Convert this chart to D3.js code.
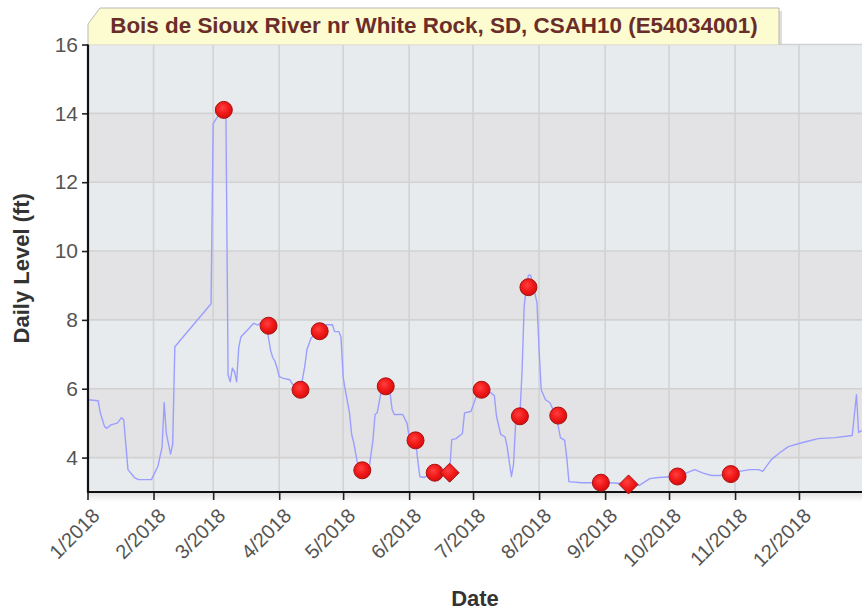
<!DOCTYPE html>
<html>
<head>
<meta charset="utf-8">
<script src="https://cdn.jsdelivr.net/npm/d3@7"></script>
<style>
  html, body { margin: 0; padding: 0; background: #ffffff; }
  svg { display: block; }
</style>
</head>
<body>
<svg id="chart" width="862" height="612"></svg>
<script>
// ---------- DATA ----------
const chartTitle = "Bois de Sioux River nr White Rock, SD, CSAH10 (E54034001)";
const yAxisTitle = "Daily Level (ft)";
const xAxisTitle = "Date";

const yTickValues = [4, 6, 8, 10, 12, 14, 16];
const monthTicks = ["2018-01-01","2018-02-01","2018-03-01","2018-04-01","2018-05-01","2018-06-01",
                    "2018-07-01","2018-08-01","2018-09-01","2018-10-01","2018-11-01","2018-12-01"];

// Daily level line (vertices)
const lineDates = [
 "2018-01-01","2018-01-06","2018-01-07","2018-01-09","2018-01-10","2018-01-12","2018-01-15","2018-01-17","2018-01-18",
 "2018-01-20","2018-01-23","2018-01-25","2018-01-31","2018-02-03","2018-02-05","2018-02-06","2018-02-07","2018-02-09",
 "2018-02-10","2018-02-11","2018-02-28","2018-03-01","2018-03-03","2018-03-05","2018-03-07","2018-03-08","2018-03-09",
 "2018-03-10","2018-03-11","2018-03-12","2018-03-13","2018-03-14","2018-03-17","2018-03-20","2018-03-22","2018-03-24",
 "2018-03-26","2018-03-28","2018-03-29","2018-03-30","2018-03-31","2018-04-01","2018-04-03","2018-04-06","2018-04-07",
 "2018-04-11","2018-04-13","2018-04-14","2018-04-16","2018-04-20","2018-04-23","2018-04-26","2018-04-27","2018-04-29",
 "2018-04-30","2018-05-01","2018-05-02","2018-05-04","2018-05-05","2018-05-06","2018-05-08","2018-05-10","2018-05-13",
 "2018-05-15","2018-05-16","2018-05-17","2018-05-19","2018-05-21","2018-05-23","2018-05-24","2018-05-25","2018-05-29",
 "2018-05-31","2018-06-01","2018-06-04","2018-06-05","2018-06-06","2018-06-08","2018-06-10","2018-06-13","2018-06-20",
 "2018-06-21","2018-06-23","2018-06-26","2018-06-27","2018-06-30","2018-07-02","2018-07-03","2018-07-05","2018-07-09",
 "2018-07-11","2018-07-12","2018-07-14","2018-07-16","2018-07-17","2018-07-19","2018-07-20","2018-07-21","2018-07-23",
 "2018-07-24","2018-07-25","2018-07-26","2018-07-27","2018-07-28","2018-07-29","2018-07-31","2018-08-01","2018-08-02",
 "2018-08-04","2018-08-06","2018-08-09","2018-08-10","2018-08-11","2018-08-13","2018-08-14","2018-08-15","2018-08-21",
 "2018-08-29","2018-09-03","2018-09-11","2018-09-17","2018-09-22","2018-09-26","2018-10-04","2018-10-09","2018-10-13",
 "2018-10-17","2018-10-21","2018-10-25","2018-10-29","2018-11-03","2018-11-08","2018-11-12","2018-11-14","2018-11-18",
 "2018-11-22","2018-11-26","2018-12-01","2018-12-06","2018-12-10","2018-12-18","2018-12-26","2018-12-28","2018-12-29",
 "2018-12-31"
];
const lineValues = [
 5.68,5.65,5.3,4.9,4.85,4.95,5.0,5.16,5.1,
 3.65,3.42,3.36,3.36,3.74,4.3,5.6,4.7,4.1,
 4.4,7.22,8.47,13.7,13.9,14.0,13.9,6.4,6.2,
 6.6,6.5,6.2,7.2,7.5,7.7,7.9,7.85,7.95,
 7.83,7.1,6.9,6.8,6.6,6.35,6.3,6.26,6.15,
 5.97,6.65,7.13,7.48,7.66,7.86,7.86,7.66,7.66,
 7.5,6.35,5.97,5.3,4.67,4.43,3.75,3.65,3.6,
 4.5,5.25,5.3,5.97,6.09,5.9,5.4,5.25,5.25,
 5.0,4.6,4.52,3.94,3.45,3.42,3.5,3.59,3.59,
 4.52,4.55,4.7,5.3,5.34,5.68,5.9,5.97,5.9,
 5.8,5.2,4.67,4.6,4.32,3.45,3.8,5.0,5.22,
 6.5,8.4,8.93,9.3,9.3,9.05,8.5,7.13,5.97,
 5.68,5.6,5.22,4.9,4.58,4.5,4.0,3.3,3.27,
 3.27,3.27,3.24,3.19,3.39,3.42,3.45,3.55,3.65,
 3.55,3.48,3.48,3.54,3.6,3.65,3.65,3.6,3.94,
 4.14,4.32,4.41,4.49,4.55,4.58,4.64,5.83,4.73,
 4.8
];

// Measured readings (circles)
const circleDates = ["2018-03-06","2018-03-27","2018-04-11","2018-04-20","2018-05-10","2018-05-21","2018-06-04",
                     "2018-06-13","2018-07-05","2018-07-23","2018-07-27","2018-08-10","2018-08-30","2018-10-05","2018-10-30"];
const circleValues = [14.1, 7.83, 5.97, 7.67, 3.63, 6.07, 4.5, 3.56, 5.97, 5.2, 8.95, 5.22, 3.27, 3.45, 3.52];

// Readings shown as diamonds
const diamondDates = ["2018-06-20","2018-09-12"];
const diamondValues = [3.56, 3.22];

// ---------- CHART ----------
(function () {
const parse = d3.timeParse("%Y-%m-%d");
const svg = d3.select("#chart");
const W = 862;
const pLeft = 88, pTop = 44.5, pBottom = 492;

const x = d3.scaleTime()
  .domain([parse("2018-01-01"), parse("2019-01-01")])
  .range([87.5, 865]);
const y = d3.scaleLinear().domain([3, 16]).range([pBottom, pTop]);

const defs = svg.append("defs");
const rg = defs.append("radialGradient").attr("id", "ball")
  .attr("cx", "42%").attr("cy", "38%").attr("r", "62%");
rg.append("stop").attr("offset", "0%").attr("stop-color", "#ff4040");
rg.append("stop").attr("offset", "55%").attr("stop-color", "#f21a1a");
rg.append("stop").attr("offset", "100%").attr("stop-color", "#d80c0c");
const sg = defs.append("linearGradient").attr("id", "shadowBelow")
  .attr("x1", 0).attr("y1", 0).attr("x2", 0).attr("y2", 1);
sg.append("stop").attr("offset", "0%").attr("stop-color", "#000").attr("stop-opacity", 0.12);
sg.append("stop").attr("offset", "100%").attr("stop-color", "#000").attr("stop-opacity", 0);
defs.append("clipPath").attr("id", "plotClip").append("rect")
  .attr("x", pLeft).attr("y", pTop - 12).attr("width", W - pLeft).attr("height", pBottom - pTop + 12);

// Plot background bands
const bandEdges = [16, 14, 12, 10, 8, 6, 4, 3];
const bands = d3.pairs(bandEdges);
svg.append("g").selectAll("rect").data(bands).join("rect")
  .attr("x", pLeft).attr("width", W - pLeft)
  .attr("y", d => y(d[0])).attr("height", d => y(d[1]) - y(d[0]))
  .attr("fill", (d, i) => i % 2 === 0 ? "#e8ebee" : "#e3e3e5");

// shadow below x axis
svg.append("rect").attr("x", pLeft).attr("y", pBottom + 1).attr("width", W - pLeft).attr("height", 9)
  .attr("fill", "url(#shadowBelow)");

// grid lines
const grid = svg.append("g");
grid.selectAll("line.h").data(yTickValues).join("line")
  .attr("x1", pLeft).attr("x2", W)
  .attr("y1", d => y(d)).attr("y2", d => y(d))
  .attr("stroke", "#d2d2d2").attr("stroke-width", 1.6);
grid.selectAll("line.v").data(monthTicks.slice(1).map(parse)).join("line")
  .attr("x1", d => x(d)).attr("x2", d => x(d))
  .attr("y1", pTop).attr("y2", pBottom)
  .attr("stroke", "#d2d2d2").attr("stroke-width", 1.6);

// Title tab
const tab = svg.append("g");
tab.append("path")
  .attr("d", `M${pLeft+3},${pTop} L${pLeft+3},27 L${pLeft+15},11 L782,11 L782,${pTop} Z`)
  .attr("fill", "#c8c8c8").attr("opacity", 0.6);
tab.append("path")
  .attr("d", `M${pLeft},${pTop} L${pLeft},24 L${pLeft+12},8 L779,8 L779,${pTop}`)
  .attr("fill", "#fdfbd0").attr("stroke", "#b9b9b0").attr("stroke-width", 1);
const title = tab.append("text")
  .attr("x", 434).attr("y", 33)
  .attr("text-anchor", "middle")
  .attr("font-family", "Liberation Sans, Arial, sans-serif")
  .attr("font-weight", "bold")
  .attr("font-size", 20)
  .attr("fill", "#6b2d2a")
  .text(chartTitle);
const tl = title.node().getComputedTextLength();
title.attr("font-size", 20 * 648 / tl);

// Line
const pts = lineDates.map((d, i) => ({ date: parse(d), value: lineValues[i] }));
const line = d3.line().x(d => x(d.date)).y(d => y(d.value));
svg.append("path").datum(pts)
  .attr("clip-path", "url(#plotClip)")
  .attr("d", line)
  .attr("fill", "none")
  .attr("stroke", "#9c9eff")
  .attr("stroke-width", 1.4)
  .attr("stroke-linejoin", "round");

// Axes
const yAxis = d3.axisLeft(y).tickValues(yTickValues).tickSize(6).tickPadding(4).tickFormat(d3.format("d"));
const gy = svg.append("g").attr("transform", `translate(${pLeft},0)`).call(yAxis);
gy.select(".domain").remove();
gy.selectAll(".tick line").attr("stroke", "#222").attr("stroke-width", 1.6);
gy.selectAll(".tick text")
  .attr("font-family", "Liberation Sans, Arial, sans-serif")
  .attr("font-size", 21).attr("fill", "#555");

const xAxis = d3.axisBottom(x).tickValues(monthTicks.map(parse)).tickSize(8).tickFormat(d3.timeFormat("%-m/%Y"));
const gx = svg.append("g").attr("transform", `translate(0,${pBottom})`).call(xAxis);
gx.select(".domain").remove();
gx.selectAll(".tick line").attr("stroke", "#222").attr("stroke-width", 1.6);
gx.selectAll(".tick text")
  .attr("font-family", "Liberation Sans, Arial, sans-serif")
  .attr("font-size", 20).attr("fill", "#555")
  .attr("text-anchor", "end")
  .attr("dy", "0.35em")
  .attr("transform", "translate(8,20) rotate(-45)")
  .attr("y", 0).attr("x", 0);

// axis lines
svg.append("line").attr("x1", pLeft).attr("x2", pLeft).attr("y1", pTop).attr("y2", pBottom + 1)
  .attr("stroke", "#111").attr("stroke-width", 2.2);
svg.append("line").attr("x1", pLeft - 1).attr("x2", W).attr("y1", pBottom).attr("y2", pBottom)
  .attr("stroke", "#111").attr("stroke-width", 2.2);

// Markers
const circ = circleDates.map((d, i) => ({ date: parse(d), value: circleValues[i] }));
svg.append("g").selectAll("circle").data(circ).join("circle")
  .attr("cx", d => x(d.date)).attr("cy", d => y(d.value)).attr("r", 8.5)
  .attr("fill", "url(#ball)").attr("stroke", "#a51212").attr("stroke-width", 1);

const dia = diamondDates.map((d, i) => ({ date: parse(d), value: diamondValues[i] }));
svg.append("g").selectAll("path").data(dia).join("path")
  .attr("transform", d => `translate(${x(d.date)},${y(d.value)})`)
  .attr("d", "M0,-9.5L9.5,0L0,9.5L-9.5,0Z")
  .attr("fill", "url(#ball)").attr("stroke", "#a51212").attr("stroke-width", 1);

// Axis titles
svg.append("text")
  .attr("transform", `translate(29,${(pTop + pBottom) / 2}) rotate(-90)`)
  .attr("text-anchor", "middle")
  .attr("font-family", "Liberation Sans, Arial, sans-serif")
  .attr("font-weight", "bold").attr("font-size", 22).attr("fill", "#333")
  .text(yAxisTitle);
svg.append("text")
  .attr("x", 475).attr("y", 606)
  .attr("text-anchor", "middle")
  .attr("font-family", "Liberation Sans, Arial, sans-serif")
  .attr("font-weight", "bold").attr("font-size", 22).attr("fill", "#333")
  .text(xAxisTitle);
})();
</script>
</body>
</html>
